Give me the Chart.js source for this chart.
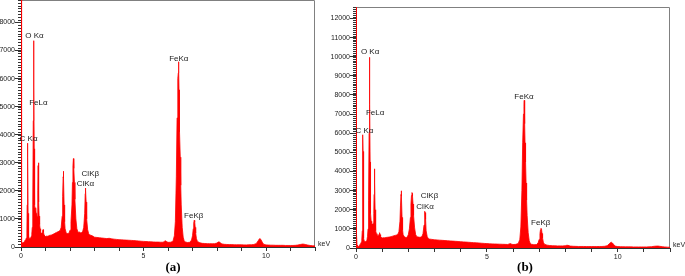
<!DOCTYPE html>
<html>
<head>
<meta charset="UTF-8">
<script src="https://cdn.jsdelivr.net/npm/chart.js"></script>
<title>EDS spectra</title>
<style>
  body{margin:0;background:#fff;}
  #wrap{position:relative;width:685px;height:276px;overflow:hidden;}
  canvas{position:absolute;top:0;}
  #chartA{left:0;}
  #chartB{left:315px;}
</style>
</head>
<body>
<div id="wrap">
  <canvas id="chartA" width="340" height="276"></canvas>
  <canvas id="chartB" width="370" height="276"></canvas>
</div>
<script>
// energy channels (keV), shared by both spectra
const energy = [
  0.00, 0.01, 0.02, 0.04, 0.06, 0.08, 0.10, 0.12, 0.14, 0.16,
  0.18, 0.20, 0.22, 0.24, 0.25, 0.26, 0.27, 0.28, 0.29, 0.30,
  0.32, 0.34, 0.36, 0.38, 0.40, 0.42, 0.44, 0.46, 0.48, 0.50,
  0.51, 0.52, 0.53, 0.54, 0.55, 0.56, 0.58, 0.60, 0.62, 0.64,
  0.66, 0.68, 0.69, 0.70, 0.71, 0.72, 0.73, 0.74, 0.76, 0.78,
  0.80, 0.82, 0.84, 0.86, 0.88, 0.90, 0.92, 0.94, 0.96, 0.98,
  1.00, 1.05, 1.10, 1.15, 1.20, 1.25, 1.30, 1.35, 1.40, 1.45,
  1.50, 1.55, 1.60, 1.64, 1.68, 1.70, 1.72, 1.73, 1.74, 1.76,
  1.78, 1.80, 1.84, 1.88, 1.92, 1.96, 2.00, 2.04, 2.08, 2.10,
  2.12, 2.14, 2.15, 2.16, 2.18, 2.20, 2.24, 2.28, 2.32, 2.36,
  2.40, 2.44, 2.48, 2.52, 2.56, 2.60, 2.62, 2.63, 2.64, 2.66,
  2.68, 2.72, 2.76, 2.80, 2.85, 2.90, 2.95, 3.00, 3.10, 3.20,
  3.30, 3.40, 3.50, 3.60, 3.70, 3.80, 3.90, 4.00, 4.10, 4.20,
  4.30, 4.40, 4.50, 4.60, 4.70, 4.80, 4.90, 5.00, 5.10, 5.20,
  5.30, 5.40, 5.50, 5.60, 5.70, 5.80, 5.85, 5.90, 5.95, 6.00,
  6.10, 6.20, 6.26, 6.30, 6.34, 6.37, 6.40, 6.42, 6.43, 6.44,
  6.45, 6.46, 6.48, 6.50, 6.52, 6.54, 6.58, 6.62, 6.66, 6.70,
  6.80, 6.90, 6.96, 7.00, 7.03, 7.05, 7.07, 7.09, 7.11, 7.13,
  7.16, 7.20, 7.30, 7.40, 7.50, 7.60, 7.70, 7.80, 7.90, 8.00,
  8.05, 8.10, 8.15, 8.20, 8.30, 8.40, 8.50, 8.60, 8.70, 8.80,
  8.90, 9.00, 9.10, 9.20, 9.30, 9.40, 9.50, 9.60, 9.68, 9.72,
  9.76, 9.80, 9.85, 9.90, 10.00, 10.10, 10.20, 10.30, 10.40, 10.50,
  10.60, 10.70, 10.80, 10.90, 11.00, 11.10, 11.20, 11.30, 11.40, 11.50,
  11.55, 11.60, 11.70, 11.80, 11.90, 12.00
];

// spectrum (a) counts
const countsA = [
  9500, 4200, 600, 180, 150, 140, 160, 180, 200, 230,
  250, 280, 320, 500, 1500, 3150, 3700, 3200, 1200, 450,
  320, 300, 330, 310, 340, 380, 450, 700, 1500, 4500,
  5750, 7350, 5700, 3500, 2000, 1500, 1300, 1400, 1200, 1000,
  1100, 1400, 2000, 2900, 3000, 2500, 1600, 1100, 800, 650,
  550, 500, 480, 500, 560, 620, 520, 430, 400, 380,
  360, 390, 380, 410, 420, 430, 450, 470, 500, 520,
  540, 560, 600, 700, 1100, 1800, 2500, 2700, 2450, 1500,
  900, 650, 520, 480, 470, 500, 600, 900, 1500, 2300,
  2900, 3150, 3050, 2800, 2300, 1700, 1000, 650, 550, 520,
  530, 500, 520, 560, 700, 1200, 1900, 2100, 2000, 1600,
  1000, 620, 480, 430, 420, 400, 380, 350, 340, 330,
  320, 310, 300, 310, 290, 280, 270, 260, 255, 250,
  245, 240, 235, 230, 220, 215, 205, 200, 195, 190,
  185, 180, 175, 175, 170, 170, 200, 220, 190, 165,
  170, 200, 400, 900, 2500, 4600, 6000, 6200, 6600, 6300,
  5600, 4800, 4100, 3200, 2200, 1500, 700, 350, 220, 180,
  160, 170, 250, 400, 650, 850, 950, 900, 700, 500,
  300, 200, 150, 130, 125, 120, 120, 115, 120, 140,
  180, 175, 140, 110, 95, 90, 85, 85, 80, 80,
  80, 80, 75, 75, 80, 80, 90, 120, 220, 280,
  300, 250, 170, 100, 75, 70, 65, 65, 60, 60,
  60, 60, 55, 55, 55, 55, 60, 70, 90, 105,
  100, 90, 70, 55, 45, 40
];

// spectrum (b) counts
const countsB = [
  13000, 6000, 800, 150, 100, 80, 90, 120, 160, 200,
  240, 300, 400, 900, 3000, 5920, 5050, 2500, 1000, 500,
  350, 320, 330, 340, 380, 450, 600, 1000, 2500, 6000,
  7970, 9970, 7500, 4500, 2500, 1800, 1400, 1300, 1250, 1200,
  1300, 1800, 2800, 3900, 4140, 3400, 2000, 1300, 900, 750,
  680, 650, 640, 660, 720, 800, 700, 600, 560, 540,
  520, 540, 530, 550, 560, 570, 580, 600, 620, 640,
  660, 680, 720, 850, 1400, 2200, 2800, 2990, 2700, 1600,
  950, 700, 600, 560, 550, 580, 700, 1000, 1600, 2300,
  2750, 2900, 2850, 2700, 2300, 1700, 1050, 700, 600, 580,
  570, 560, 570, 600, 750, 1200, 1800, 1920, 1850, 1500,
  900, 600, 500, 470, 460, 450, 440, 430, 420, 410,
  400, 390, 380, 370, 360, 350, 340, 330, 320, 310,
  300, 290, 280, 270, 260, 250, 240, 230, 220, 215,
  210, 205, 200, 195, 190, 185, 210, 230, 200, 180,
  190, 230, 450, 1100, 3000, 5500, 7000, 7400, 7720, 7300,
  6500, 5500, 4500, 3400, 2500, 1700, 800, 380, 240, 200,
  170, 180, 270, 450, 750, 950, 1030, 980, 760, 520,
  300, 200, 150, 130, 120, 115, 110, 110, 110, 120,
  140, 140, 120, 100, 90, 85, 80, 80, 80, 75,
  75, 75, 75, 75, 80, 80, 90, 120, 220, 280,
  300, 260, 180, 100, 75, 70, 65, 60, 60, 60,
  55, 55, 55, 55, 55, 55, 60, 70, 90, 100,
  100, 90, 70, 55, 45, 40
];

const xTicks = [0, 1, 2, 3, 4, 5, 6, 7, 8, 9, 10, 11, 12];
const xLabelled = [0, 5, 10];
const yTicksA = [0, 1000, 2000, 3000, 4000, 5000, 6000, 7000, 8000];
const yTicksB = [0, 1000, 2000, 3000, 4000, 5000, 6000, 7000, 8000, 9000, 10000, 11000, 12000];
const yMinorStep = 100;

const peakNames = ['O Kα', 'FeLα', 'C Kα', 'ClKβ', 'ClKα', 'FeKα', 'FeKβ'];
const peakKeVA = [0.55, 0.71, 0.31, 2.83, 2.63, 6.44, 7.05];
const peakCountA = [7530, 5150, 3840, 2600, 2240, 6710, 1100];
const peakKeVB = [0.54, 0.73, 0.32, 2.81, 2.64, 6.42, 7.06];
const peakCountB = [10240, 7090, 6130, 2725, 2150, 7930, 1310];

const edsDecor = {
  id: 'edsDecor',
  beforeDatasetsDraw(chart) {
    const c = chart.ctx, a = chart.chartArea;
    c.save();
    c.strokeStyle = '#808080';
    c.lineWidth = 1;
    c.beginPath();
    c.moveTo(a.left, a.top + 0.5);
    c.lineTo(a.right - 0.5, a.top + 0.5);
    c.lineTo(a.right - 0.5, a.bottom);
    c.stroke();
    // minor y ticks
    const ys = chart.scales.y;
    c.strokeStyle = '#333';
    c.beginPath();
    for (let v = 0; v <= ys.max; v += yMinorStep) {
      const py = Math.round(ys.getPixelForValue(v)) + 0.5;
      c.moveTo(a.left - 3, py);
      c.lineTo(a.left, py);
    }
    c.stroke();
    c.restore();
  },
  afterDatasetsDraw(chart, args, opts) {
    const c = chart.ctx, a = chart.chartArea;
    const xs = chart.scales.x, ys = chart.scales.y;
    c.save();
    c.fillStyle = '#222';
    c.font = '8px "Liberation Sans", Arial, sans-serif';
    c.textAlign = 'center';
    c.textBaseline = 'middle';
    peakNames.forEach((n, i) => {
      c.fillText(n, xs.getPixelForValue(opts.keV[i]), ys.getPixelForValue(opts.count[i]));
    });
    c.font = '7px "Liberation Sans", Arial, sans-serif';
    c.textAlign = 'left';
    c.fillText('keV', a.right + 3, a.bottom - 3);
    c.font = 'bold 13px "Liberation Serif", "Times New Roman", serif';
    c.textAlign = 'center';
    c.fillStyle = '#000';
    c.fillText(opts.caption, opts.captionX, 268);
    c.restore();
  }
};

function drawSpectrum(id, counts, yMax, yTicks, lay, decor) {
  const ctx = document.getElementById(id).getContext('2d');
  return new Chart(ctx, {
    type: 'line',
    data: {
      datasets: [{
        data: energy.map((e, i) => ({x: e, y: counts[i]})),
        borderColor: '#ff0000',
        backgroundColor: '#ff0000',
        borderWidth: 0.8,
        pointRadius: 0,
        fill: 'origin',
        tension: 0
      }]
    },
    options: {
      responsive: false,
      animation: false,
      devicePixelRatio: 1,
      layout: {padding: {left: 0, right: lay.right, top: lay.top, bottom: 0}},
      plugins: {legend: {display: false}, tooltip: {enabled: false}, edsDecor: decor},
      scales: {
        x: {
          type: 'linear', min: 0, max: 12,
          afterBuildTicks: s => { s.ticks = xTicks.map(v => ({value: v})); },
          afterFit: s => { s.height = lay.xh; s.paddingLeft = 0; s.paddingRight = 0; },
          grid: {drawOnChartArea: false, drawTicks: true, tickLength: 4, color: '#333'},
          border: {color: '#333', width: 1},
          ticks: {
            autoSkip: false, maxRotation: 0, padding: 1, color: '#222',
            font: {family: '"Liberation Sans", Arial, sans-serif', size: 7},
            callback: v => xLabelled.includes(v) ? String(v) : ''
          }
        },
        y: {
          min: 0, max: yMax,
          afterBuildTicks: s => { s.ticks = yTicks.map(v => ({value: v})); },
          afterFit: s => { s.width = lay.yw; s.paddingTop = 0; s.paddingBottom = 0; },
          grid: {drawOnChartArea: false, drawTicks: true, tickLength: 6, color: '#333'},
          border: {color: '#333', width: 1},
          ticks: {
            padding: 0, color: '#222',
            font: {family: '"Liberation Sans", Arial, sans-serif', size: 7},
            callback: v => String(v)
          }
        }
      }
    },
    plugins: [edsDecor]
  });
}

drawSpectrum('chartA', countsA, 8800, yTicksA,
  {right: 25, top: 0, xh: 29, yw: 21},
  {keV: peakKeVA, count: peakCountA, caption: '(a)', captionX: 173});
drawSpectrum('chartB', countsB, 12600, yTicksB,
  {right: 15, top: 7, xh: 28, yw: 41},
  {keV: peakKeVB, count: peakCountB, caption: '(b)', captionX: 210});
</script>
</body>
</html>
